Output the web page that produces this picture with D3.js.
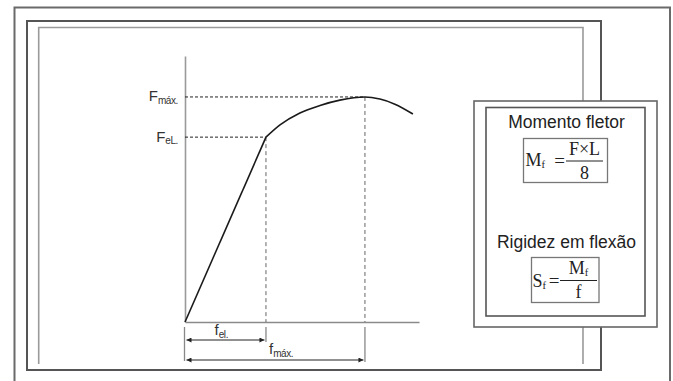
<!DOCTYPE html>
<html><head><meta charset="utf-8">
<script src="https://cdn.jsdelivr.net/npm/d3@7"></script>
<style>html,body{margin:0;padding:0;background:#fff;}svg{display:block;}</style>
</head><body>
<svg id="c" width="673" height="381"></svg>
<script>
// ---- data (arbitrary units 0..100) ----
const displacement = [0, 34.6, 40.6, 49.1, 57.7, 66.2, 76.9, 83.3, 89.7, 97.4];
const force        = [0, 69.5, 74.1, 78.6, 81.4, 83.4, 84.6, 83.8, 81.9, 78.2];
const elasticIndex = 1;
const maxIndex = 6;
const forceLabels = [{main: "F", sub: "máx.", idx: 6}, {main: "F", sub: "eL.", idx: 1}];
const dispLabels  = [{main: "f", sub: "el.", idx: 1}, {main: "f", sub: "máx.", idx: 6}];
const boxTitles = ["Momento fletor", "Rigidez em flexão"];

const svg = d3.select("#c");
const x = d3.scaleLinear().domain([0, 100]).range([185, 419]);
const y = d3.scaleLinear().domain([0, 100]).range([322, 56]);

// ---- frames ----
svg.append("rect").attr("x", 14.5).attr("y", 7.5).attr("width", 655.5).attr("height", 400)
  .attr("fill", "none").attr("stroke", "#6a6a6a").attr("stroke-width", 2);
svg.append("rect").attr("x", 27).attr("y", 21).attr("width", 574).attr("height", 349)
  .attr("fill", "none").attr("stroke", "#555").attr("stroke-width", 2);
svg.append("path").attr("d", "M38.7,364V27.5H583V364")
  .attr("fill", "none").attr("stroke", "#9a9a9a").attr("stroke-width", 1.6);

// ---- axes ----
const axisX = d3.axisBottom(x).tickValues([]).tickSizeOuter(0);
const axisY = d3.axisLeft(y).tickValues([]).tickSizeOuter(0);
const gx = svg.append("g").attr("transform", `translate(0,${y(0)})`).call(axisX);
const gy = svg.append("g").attr("transform", `translate(${x(0)},0)`).call(axisY);
gx.select(".domain").attr("stroke", "#8a8a8a").attr("stroke-width", 1.6);
gy.select(".domain").attr("stroke", "#9a9a9a").attr("stroke-width", 1.6);

// ---- dashed guides ----
const guideIdx = [elasticIndex, maxIndex];
guideIdx.forEach(i => {
  svg.append("line").attr("x1", x(0)).attr("x2", x(displacement[i]))
    .attr("y1", y(force[i])).attr("y2", y(force[i]))
    .attr("stroke", "#222").attr("stroke-width", 1).attr("stroke-dasharray", "3,2");
  svg.append("line").attr("x1", x(displacement[i])).attr("x2", x(displacement[i]))
    .attr("y1", y(force[i])).attr("y2", y(0))
    .attr("stroke", "#666").attr("stroke-width", 1).attr("stroke-dasharray", "4,3");
});

// ---- curve ----
const pts = displacement.map((d, i) => [d, force[i]]);
const lin = d3.line().x(d => x(d[0])).y(d => y(d[1]));
svg.append("path").attr("d", lin(pts.slice(0, elasticIndex + 1)))
  .attr("fill", "none").attr("stroke", "#1a1a1a").attr("stroke-width", 1.6);
const smooth = d3.line().x(d => x(d[0])).y(d => y(d[1])).curve(d3.curveMonotoneX);
svg.append("path").attr("d", smooth(pts.slice(elasticIndex)))
  .attr("fill", "none").attr("stroke", "#1a1a1a").attr("stroke-width", 1.6);

// ---- force labels ----
forceLabels.forEach(l => {
  const t = svg.append("text").attr("x", 178).attr("y", y(force[l.idx]) + 4.5)
    .attr("text-anchor", "end").attr("font-family", "Liberation Sans, Arial, sans-serif")
    .attr("fill", "#333");
  t.append("tspan").attr("font-size", 15).text(l.main);
  t.append("tspan").attr("font-size", 10).attr("dy", 2.5).attr("letter-spacing", -0.4).text(l.sub);
});

// ---- dimension lines ----
const defs = svg.append("defs");
defs.append("marker").attr("id", "ah").attr("viewBox", "0 0 10 10").attr("refX", 10).attr("refY", 5)
  .attr("markerWidth", 8).attr("markerHeight", 5).attr("markerUnits", "userSpaceOnUse")
  .attr("orient", "auto-start-reverse")
  .append("path").attr("d", "M0,0L10,5L0,10z").attr("fill", "#222");

// extension lines
svg.append("line").attr("x1", x(0) - 0.5).attr("x2", x(0) - 0.5).attr("y1", 327).attr("y2", 361)
  .attr("stroke", "#888").attr("stroke-width", 1.3);
svg.append("line").attr("x1", x(displacement[elasticIndex])).attr("x2", x(displacement[elasticIndex]))
  .attr("y1", 327).attr("y2", 342).attr("stroke", "#888").attr("stroke-width", 1.3);
svg.append("line").attr("x1", x(displacement[maxIndex])).attr("x2", x(displacement[maxIndex]))
  .attr("y1", 327).attr("y2", 362).attr("stroke", "#888").attr("stroke-width", 1.3);

const dimY = [340, 360];
dispLabels.forEach((l, k) => {
  const x2 = x(displacement[l.idx]) - 1.5;
  svg.append("line").attr("x1", x(0) + 1.5).attr("x2", x2).attr("y1", dimY[k]).attr("y2", dimY[k])
    .attr("stroke", "#222").attr("stroke-width", 1)
    .attr("marker-start", "url(#ah)").attr("marker-end", "url(#ah)");
});
const dimLabelPos = [[214.5, 335], [269, 354]];
dispLabels.forEach((l, k) => {
  const t = svg.append("text").attr("x", dimLabelPos[k][0]).attr("y", dimLabelPos[k][1])
    .attr("font-family", "Liberation Sans, Arial, sans-serif").attr("fill", "#333");
  t.append("tspan").attr("font-size", 15).text(l.main);
  t.append("tspan").attr("font-size", 10).attr("dy", 2.5).attr("letter-spacing", -0.4).text(l.sub);
});

// ---- formula box ----
svg.append("rect").attr("x", 474).attr("y", 101).attr("width", 183).attr("height", 226)
  .attr("fill", "#fff").attr("stroke", "#666").attr("stroke-width", 1.6);
svg.append("rect").attr("x", 486).attr("y", 107.5).attr("width", 159).attr("height", 208.5)
  .attr("fill", "none").attr("stroke", "#555").attr("stroke-width", 1.6);

const titleY = [127.5, 247.5];
boxTitles.forEach((s, i) => {
  svg.append("text").attr("x", 566.5).attr("y", titleY[i]).attr("text-anchor", "middle")
    .attr("font-family", "Liberation Sans, Arial, sans-serif").attr("font-size", 17.5)
    .attr("fill", "#222").text(s);
});

const serif = "Liberation Serif, Times New Roman, serif";
function formula(g, o) {
  g.append("rect").attr("x", o.bx).attr("y", o.by).attr("width", o.bw).attr("height", o.bh)
    .attr("fill", "none").attr("stroke", "#777").attr("stroke-width", 1.3);
  const lhs = g.append("text").attr("x", o.lx).attr("y", o.ly).attr("font-family", serif)
    .attr("font-size", 18).attr("fill", "#222");
  lhs.append("tspan").text(o.l);
  lhs.append("tspan").attr("font-size", 10.5).attr("dy", 2).text("f");
  g.append("text").attr("x", o.ex).attr("y", o.ey).attr("text-anchor", "middle").attr("font-family", serif)
    .attr("font-size", 19).attr("fill", "#222").text("=");
  g.append("line").attr("x1", o.fx1).attr("x2", o.fx2).attr("y1", o.fy).attr("y2", o.fy)
    .attr("stroke", "#222").attr("stroke-width", 1);
  const num = g.append("text").attr("x", (o.fx1 + o.fx2) / 2).attr("y", o.ny)
    .attr("text-anchor", "middle").attr("font-family", serif).attr("font-size", 18).attr("fill", "#222");
  num.append("tspan").text(o.num);
  if (o.numSub) num.append("tspan").attr("font-size", 10.5).attr("dy", 2).text(o.numSub);
  g.append("text").attr("x", (o.fx1 + o.fx2) / 2).attr("y", o.dy)
    .attr("text-anchor", "middle").attr("font-family", serif).attr("font-size", 18)
    .attr("fill", "#222").text(o.den);
}
formula(svg.append("g"), {bx: 523.5, by: 138.5, bw: 84, bh: 44, l: "M", lx: 525.5, ly: 166,
  ex: 559.5, ey: 167, fx1: 566, fx2: 603, fy: 161, num: "F×L", ny: 154.5, den: "8", dy: 179});
formula(svg.append("g"), {bx: 531.5, by: 257.5, bw: 67.5, bh: 45, l: "S", lx: 532.5, ly: 286.5,
  ex: 554, ey: 287, fx1: 560, fx2: 597, fy: 280.5, num: "M", numSub: "f", ny: 273.5, den: "f", dy: 297.5});
</script>
</body></html>
